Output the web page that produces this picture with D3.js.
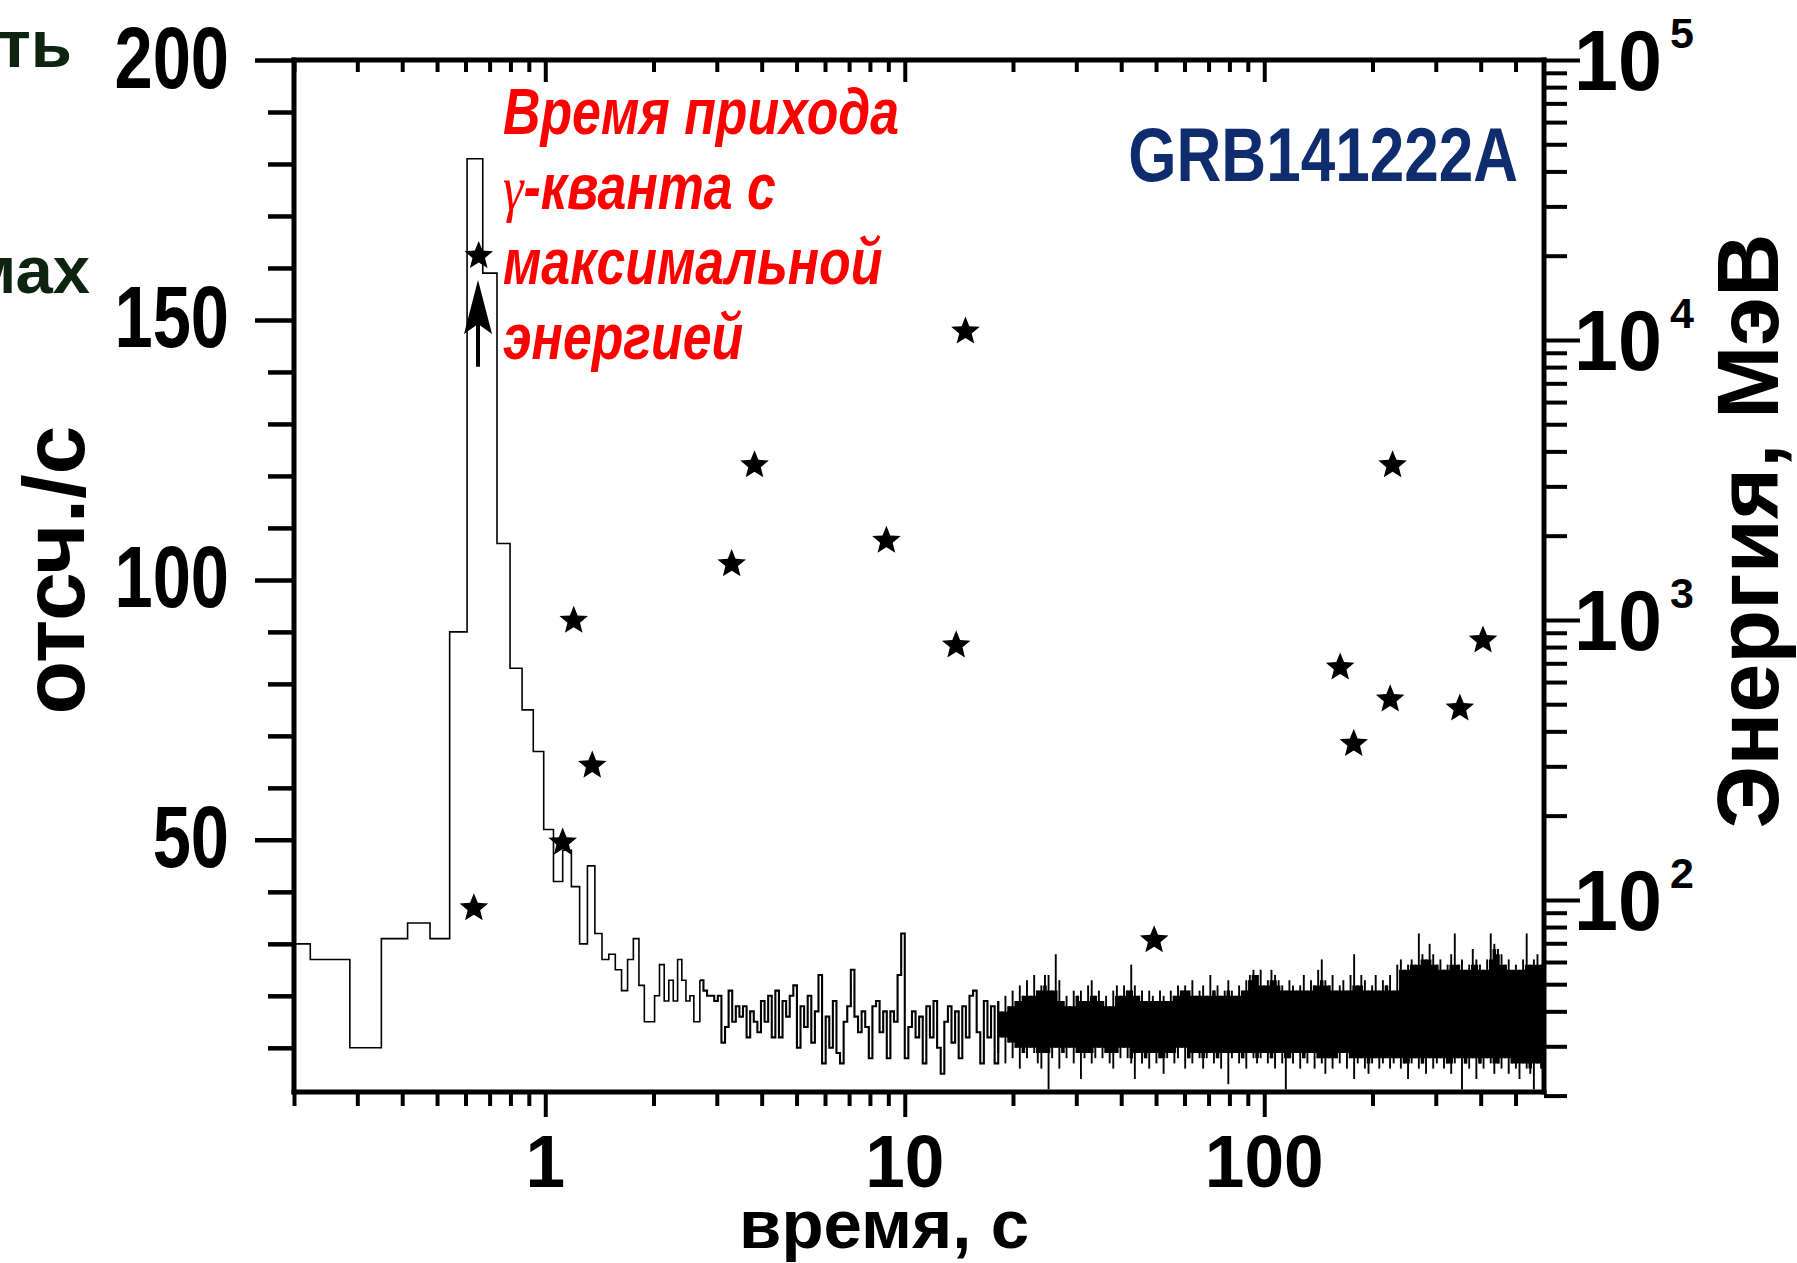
<!DOCTYPE html>
<html><head><meta charset="utf-8">
<script src="https://cdn.jsdelivr.net/npm/d3@7"></script>
<style>body{margin:0;background:#fff}svg{display:block}text{font-family:"Liberation Sans",Arial,sans-serif}</style>
</head><body>
<svg id="chart" width="1797" height="1263"></svg>
<script>
// ---- early light curve: 64 ms bins (bin start, counts/s) ----
const histBinStart = [0.2,0.222,0.286,0.350,0.414,0.478,0.542,0.606,0.670,0.734,0.798,0.862,0.926,0.990,1.054,1.118,1.182,1.246,1.310,1.374,1.438,1.502,1.566,1.630,1.694,1.758,1.822,1.886,1.950,2.014,2.078,2.142,2.206,2.270,2.334,2.398,2.462,2.526,2.590];
const histCounts   = [30,27,10,31,34,31,90,181,159,107,83,75,67,52,42,48,41,30,45,32,27,28,25,21,27,31,22,15,15,20,26,19,23,19,27,23,19,20,15];
// ---- tail trace read at log10(time) steps ----
const traceLogTime = [0.43,0.44,0.45,0.46,0.47,0.48,0.49,0.50,0.51,0.52,0.53,0.54,0.55,0.56,0.57,0.58,0.59,0.60,0.61,0.62,0.63,0.64,0.65,0.66,0.67,0.68,0.69,0.70,0.71,0.72,0.73,0.74,0.75,0.76,0.77,0.78,0.79,0.80,0.81,0.82,0.83,0.84,0.85,0.86,0.87,0.88,0.89,0.90,0.91,0.92,0.93,0.94,0.95,0.96,0.97,0.98,0.99,1.00,1.01,1.02,1.03,1.04,1.05,1.06,1.07,1.08,1.09,1.10,1.11,1.12,1.13,1.14,1.15,1.16,1.17,1.18,1.19,1.20,1.21,1.22,1.23,1.24,1.25];
const traceCounts  = [23,21,20,20,19,20,11,14,21,15,18,16,18,12,17,15,13,19,15,20,12,21,12,19,16,20,22,10,18,14,20,11,17,24,7,16,10,19,9,7,15,18,25,16,13,17,14,8,18,19,13,17,8,17,15,24,32,8,14,17,12,16,7,18,12,19,10,5,15,18,11,17,8,18,12,20,21,13,7,19,12,18,7];
// ---- dense tail: per-column max / min of the noise band ----
const bandLogTime = [1.26,1.27,1.28,1.29,1.30,1.31,1.32,1.33,1.34,1.35,1.36,1.37,1.38,1.39,1.40,1.41,1.42,1.43,1.44,1.45,1.46,1.47,1.48,1.49,1.50,1.51,1.52,1.53,1.54,1.55,1.56,1.57,1.58,1.59,1.60,1.61,1.62,1.63,1.64,1.65,1.66,1.67,1.68,1.69,1.70,1.71,1.72,1.73,1.74,1.75,1.76,1.77,1.78,1.79,1.80,1.81,1.82,1.83,1.84,1.85,1.86,1.87,1.88,1.89,1.90,1.91,1.92,1.93,1.94,1.95,1.96,1.97,1.98,1.99,2.00,2.01,2.02,2.03,2.04,2.05,2.06,2.07,2.08,2.09,2.10,2.11,2.12,2.13,2.14,2.15,2.16,2.17,2.18,2.19,2.20,2.21,2.22,2.23,2.24,2.25,2.26,2.27,2.28,2.29,2.30,2.31,2.32,2.33,2.34,2.35,2.36,2.37,2.38,2.39,2.40,2.41,2.42,2.43,2.44,2.45,2.46,2.47,2.48,2.49,2.50,2.51,2.52,2.53,2.54,2.55,2.56,2.57,2.58,2.59,2.60,2.61,2.62,2.63,2.64,2.65,2.66,2.67,2.68,2.69,2.70,2.71,2.72,2.73,2.74,2.75,2.76,2.77];
const bandHigh = [19,17,20,18,21,19,22,20,23,20, 24,21,22,24,24,21,28,23,19,20, 18,21,20,21,19,22,23,20,21,19, 20,18,21,22,20,22,21,26,22,20, 21,19,21,20,19,21,20,19,21,20, 22,21,22,21,23,20,21,22,20,24, 21,22,20,21,23,21,20,22,21,23, 24,25,24,25,22,23,25,24,23,22, 21,23,22,21,22,24,21,23,22,25, 27,23,22,24,21,22,23,21,24,28, 22,24,23,21,22,24,21,23,22,24, 21,26,27,25,26,27,26,32,28,27, 30,28,26,27,25,26,28,32,26,27, 25,26,29,27,26,25,27,32,30,29, 28,26,27,25,26,25,27,32,26,27, 28,26];
const bandLow  = [9,12,7,11,8,10,6,9,8,10, 9,7,6,9,2,8,10,6,9,8, 10,7,9,4,8,9,7,8,10,8, 9,7,6,9,8,10,8,7,4,9, 7,8,6,9,7,8,5,8,9,7, 8,10,6,8,7,9,8,6,8,9, 7,8,6,9,3,8,9,7,8,6, 9,8,7,8,9,7,8,6,9,7, 2,8,7,9,6,8,7,9,6,8, 7,5,8,6,8,7,9,6,8,4, 7,8,6,5,7,8,6,7,8,6, 7,8,6,7,4,7,8,6,7,5, 8,6,7,8,6,7,5,7,8,2, 7,6,8,4,7,6,8,7,5,7, 6,8,5,7,6,4,7,6,5,2, 7,6];
// ---- high-energy photons (time s, energy MeV) ----
const photonTime   = [0.653,0.633,1.118,1.20,1.351,3.30,3.82,8.89,13.9,14.75,49.4,162.6,177.4,224,227.5,350,406];
const photonEnergy = [20300,95,163,1010,307,1610,3630,1950,825,10900,73,688,367,529,3630,491,859];
// arrow marking the max-energy photon (time s, from / to counts/s)
const arrowTime = 0.650, arrowFrom = 141, arrowTo = 157.7;
// ticks
const countTicks = [50,100,150,200];
const countMinorTicks = [10,20,30,40,60,70,80,90,110,120,130,140,160,170,180,190];
const timeTickLabels = [1,10,100];
const energyTickLabels = [100,1000,10000,100000];
const annotationLines = ["Время прихода","-кванта с","максимальной","энергией"];

const svg = d3.select("#chart");
const L = 294, R = 1544, T = 60, B = 1092;
const x  = d3.scaleLog().domain([0.2, 600]).range([L, R]);
const yC = d3.scaleLinear().domain([1.5, 200]).range([B, T]);
const yE = d3.scaleLog().domain([20.6, 1e5]).range([B, T]);

svg.append("defs").append("clipPath").attr("id","plot").append("rect")
  .attr("x",L).attr("y",T).attr("width",R-L).attr("height",B-T);
const plot = svg.append("g").attr("clip-path","url(#plot)");

// early histogram (thin step line)
const histPts = histBinStart.map((t,i)=>[t,histCounts[i]]);
histPts.push([Math.pow(10,traceLogTime[0]), traceCounts[0]]);
const stepLine = d3.line().x(d=>x(d[0])).y(d=>yC(d[1])).curve(d3.curveStepAfter);
plot.append("path").datum(histPts).attr("d", stepLine)
  .attr("fill","none").attr("stroke","#000").attr("stroke-width",1.6);
// later trace
const tracePts = traceLogTime.map((lt,i)=>[Math.pow(10,lt),traceCounts[i]]);
tracePts.push([Math.pow(10,bandLogTime[0]), bandHigh[0]]);
plot.append("path").datum(tracePts).attr("d", stepLine)
  .attr("fill","none").attr("stroke","#000").attr("stroke-width",2.1);

// dense band: solid inner part (local envelope of neighbouring columns) + needles
const band = bandLogTime.map((lt,i)=>({t:Math.pow(10,lt),hi:bandHigh[i],lo:bandLow[i]}));
const inner = band.map((d,i)=>{
  const nb = band.slice(Math.max(0,i-1), Math.min(band.length,i+2));
  return {t:d.t, hi:d3.min(nb,e=>e.hi), lo:d3.max(nb,e=>e.lo)};
});
plot.append("path").datum(inner)
  .attr("d", d3.area().x(d=>x(d.t)).y0(d=>yC(d.lo)).y1(d=>yC(d.hi))
    .defined(d=>d.hi>d.lo).curve(d3.curveStep))
  .attr("fill","#000");
plot.append("g").selectAll("line").data(band).join("line")
  .attr("x1",d=>x(d.t)).attr("x2",d=>x(d.t))
  .attr("y1",d=>yC(d.hi)).attr("y2",d=>yC(d.lo))
  .attr("stroke","#000").attr("stroke-width",1.9);

// stars
const starPts = d3.range(10).map(k=>[k*Math.PI/5, k%2===0 ? 15 : 6.6]);
const starPath = d3.lineRadial().angle(d=>d[0]).radius(d=>d[1]).curve(d3.curveLinearClosed)(starPts);
svg.append("g").selectAll("path").data(photonTime.map((t,i)=>[t,photonEnergy[i]])).join("path")
  .attr("transform",d=>`translate(${x(d[0])},${yE(d[1])+2})`)
  .attr("d", starPath).attr("fill","#000");

// arrow
const ax = x(arrowTime), yTip = yC(arrowTo), yBot = yC(arrowFrom);
svg.append("line").attr("x1",ax).attr("x2",ax).attr("y1",yBot).attr("y2",yTip+40)
  .attr("stroke","#000").attr("stroke-width",4);
svg.append("path").attr("d",`M${ax},${yTip} L${ax+14},${yTip+54} L${ax},${yTip+44} L${ax-14},${yTip+54} Z`)
  .attr("fill","#000");

// tick helper
function ticks(gen, tx, ty, vals, size, sw){
  svg.append("g").attr("transform",`translate(${tx},${ty})`)
    .call(gen.tickValues(vals).tickSize(size).tickFormat(""))
    .call(g=>g.select(".domain").remove())
    .call(g=>g.selectAll(".tick line").attr("stroke","#000").attr("stroke-width",sw));
}
const isPow10 = v => Math.abs(Math.log10(v) - Math.round(Math.log10(v))) < 1e-6;
const timeMinor = x.ticks().filter(v=>!isPow10(v) && v<590);
const energyMinor = [20].concat(yE.ticks().filter(v=>!isPow10(v)));

ticks(d3.axisLeft(yC), L, 0, countMinorTicks, 26, 4.5);
ticks(d3.axisLeft(yC), L, 0, countTicks, 39, 4.5);
ticks(d3.axisBottom(x), 0, B, timeMinor, 14, 4);
ticks(d3.axisBottom(x), 0, B, timeTickLabels, 25, 4);
ticks(d3.axisBottom(x), 0, T, timeMinor, 12, 4);
ticks(d3.axisBottom(x), 0, T, timeTickLabels, 22, 4);
ticks(d3.axisRight(yE), R, 0, energyMinor, 23, 4);
ticks(d3.axisRight(yE), R, 0, energyTickLabels, 36, 4);

// frame
const frame = svg.append("g").attr("stroke","#000").attr("stroke-width",5).attr("stroke-linecap","square");
frame.append("line").attr("x1",L).attr("x2",L).attr("y1",T).attr("y2",B);
frame.append("line").attr("x1",R).attr("x2",R).attr("y1",T).attr("y2",B);
frame.append("line").attr("x1",L).attr("x2",R).attr("y1",T).attr("y2",T);
frame.append("line").attr("x1",L).attr("x2",R).attr("y1",B).attr("y2",B);

// left labels
svg.append("g").selectAll("text").data(countTicks).join("text")
  .attr("transform",d=>`translate(229,${yC(d)+27.5}) scale(0.78,1)`)
  .attr("text-anchor","end").attr("font-size",88).attr("font-weight","bold").text(d=>d);
// bottom labels
svg.append("g").selectAll("text").data(timeTickLabels).join("text")
  .attr("transform",d=>`translate(${x(d)},1187) scale(0.95,1)`)
  .attr("text-anchor","middle").attr("font-size",75).attr("font-weight","bold").text(d=>d);
// right labels
const rl = svg.append("g").selectAll("g").data(energyTickLabels).join("g")
  .attr("transform",d=>`translate(1574,${yE(d)})`);
rl.append("text").attr("transform","translate(0,30) scale(0.92,1)")
  .attr("font-size",86).attr("font-weight","bold").text("10");
rl.append("text").attr("x",96).attr("y",-12)
  .attr("font-size",43).attr("font-weight","bold").text(d=>Math.round(Math.log10(d)));

// axis titles
svg.append("text").attr("x",884).attr("y",1248).attr("text-anchor","middle")
  .attr("font-size",69).attr("font-weight","bold").text("время, с");
svg.append("text").attr("transform","translate(84,570) rotate(-90)").attr("text-anchor","middle")
  .attr("font-size",88).attr("font-weight","bold").text("отсч./с");
svg.append("text").attr("transform","translate(1778,531) rotate(-90)").attr("text-anchor","middle")
  .attr("font-size",88).attr("font-weight","bold").text("Энергия, МэВ");

// GRB name
svg.append("text").attr("transform","translate(1518,181) scale(0.85,1.03)").attr("text-anchor","end")
  .attr("font-size",73).attr("font-weight","bold").attr("fill","#0f2d6e").text("GRB141222A");

// red annotation
const ann = svg.append("g").attr("fill","#ff0000").attr("font-size",64).attr("font-weight","bold").attr("font-style","italic");
annotationLines.forEach((s,i)=>{
  const t = ann.append("text").attr("transform",`translate(503,${134+75*i}) scale(0.81,1)`);
  if(i===1){
    t.append("tspan").attr("font-family","'Liberation Serif',serif").attr("font-weight","normal").text("γ");
  }
  t.append("tspan").text(s);
});

// cropped slide text on the left
svg.append("text").attr("x",72).attr("y",67).attr("text-anchor","end").attr("font-size",67)
  .attr("font-weight","bold").attr("fill","#0d2410").text("сть");
svg.append("text").attr("x",90).attr("y",293).attr("text-anchor","end").attr("font-size",67)
  .attr("font-weight","bold").attr("fill","#0d2410").text("мах");
</script>
</body></html>
